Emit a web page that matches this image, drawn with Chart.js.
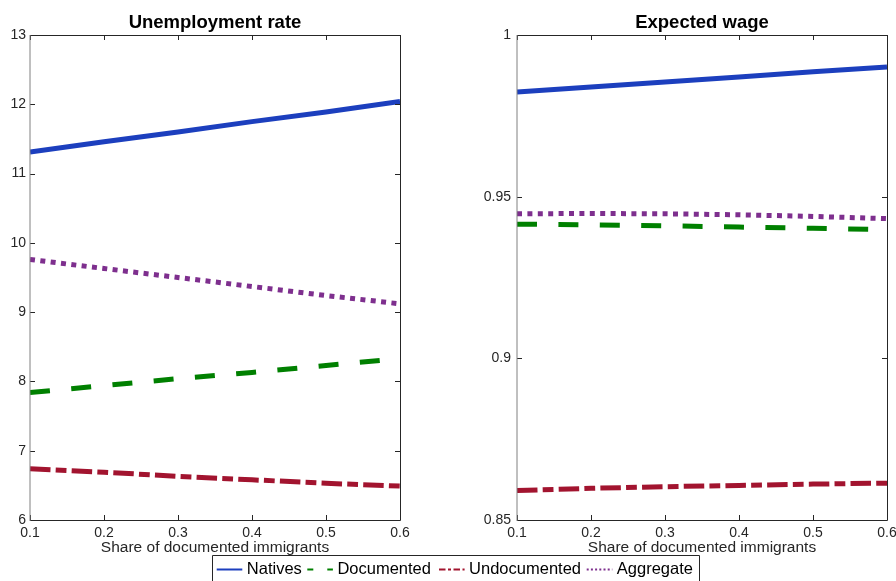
<!DOCTYPE html>
<html>
<head>
<meta charset="utf-8">
<script src="https://cdn.jsdelivr.net/npm/chart.js@4"></script>
<style>
  html, body { margin: 0; padding: 0; background: #fff; }
  #wrap { position: relative; width: 896px; height: 581px; overflow: hidden; background: #fff; }
  #wrap canvas { position: absolute; left: 0; top: 0; }
</style>
</head>
<body>
<div id="wrap">
  <canvas id="unemp" width="896" height="581"></canvas>
  <canvas id="wage" width="896" height="581"></canvas>
</div>
<script>
// Share of documented immigrants (x values)
const shares = [0.1, 0.2, 0.3, 0.4, 0.5, 0.6];

// Unemployment rate (%)
const unempNatives      = [11.31, 11.46, 11.60, 11.75, 11.89, 12.04];
const unempDocumented   = [7.84, 7.94, 8.04, 8.13, 8.23, 8.33];
const unempUndocumented = [6.74, 6.69, 6.63, 6.58, 6.53, 6.49];
const unempAggregate    = [9.76, 9.63, 9.50, 9.37, 9.24, 9.12];

// Expected wage
const wageNatives      = [0.9824, 0.9839, 0.9855, 0.9870, 0.9886, 0.9901];
const wageDocumented   = [0.9415, 0.9413, 0.9410, 0.9406, 0.9402, 0.9398];
const wageUndocumented = [0.8591, 0.8598, 0.8603, 0.8607, 0.8611, 0.8614];
const wageAggregate    = [0.9447, 0.9448, 0.9447, 0.9444, 0.9439, 0.9432];

// Tick values and labels
const xTicks = [0.1, 0.2, 0.3, 0.4, 0.5, 0.6];
const xTickLabels = ['0.1', '0.2', '0.3', '0.4', '0.5', '0.6'];
const unempTicks = [6, 7, 8, 9, 10, 11, 12, 13];
const unempTickLabels = ['6', '7', '8', '9', '10', '11', '12', '13'];
const wageTicks = [0.85, 0.9, 0.95, 1];
const wageTickLabels = ['0.85', '0.9', '0.95', '1'];

const seriesNames = ['Natives', 'Documented', 'Undocumented', 'Aggregate'];
const xTitle = 'Share of documented immigrants';

const FONT = "'Liberation Sans', Arial, Helvetica, sans-serif";
const AXIS_COLOR = '#262626';

const styles = [
  { color: '#1c3fbe', dash: [], legendDash: [] },
  { color: '#008000', dash: [20, 21.4], legendDash: [6, 14] },
  { color: '#a2142f', dash: [20.5, 5.2, 10.8, 5.2], legendDash: [6.5, 2.5, 3, 2.5] },
  { color: '#7e2f8e', dash: [5, 5.4], legendDash: [2, 2.2] }
];

// Legend slot for each entry: where its line sample starts
const legendSlots = [216.7, 307.3, 439, 586.7];

Chart.defaults.font.family = FONT;

function makeDatasets(series) {
  return series.map((vals, i) => ({
    label: seriesNames[i],
    data: shares.map((x, k) => ({ x: x, y: vals[k] })),
    borderColor: styles[i].color,
    backgroundColor: styles[i].color,
    borderWidth: 5,
    borderDash: styles[i].dash,
    borderCapStyle: 'butt',
    borderJoinStyle: 'round',
    pointRadius: 0,
    tension: 0,
    fill: false
  }));
}

// Box around the plot area with inward tick marks on all four sides
const axesBox = {
  id: 'axesBox',
  afterDatasetsDraw(chart) {
    const { ctx, chartArea: a, scales } = chart;
    const L = 5;
    ctx.save();
    ctx.strokeStyle = AXIS_COLOR;
    ctx.lineWidth = 1;
    ctx.beginPath();
    scales.x.ticks.forEach(t => {
      const px = Math.round(scales.x.getPixelForValue(t.value)) + 0.5;
      ctx.moveTo(px, a.bottom); ctx.lineTo(px, a.bottom - L);
      ctx.moveTo(px, a.top); ctx.lineTo(px, a.top + L);
    });
    scales.y.ticks.forEach(t => {
      const py = Math.round(scales.y.getPixelForValue(t.value)) + 0.5;
      ctx.moveTo(a.left, py); ctx.lineTo(a.left + L, py);
      ctx.moveTo(a.right, py); ctx.lineTo(a.right - L, py);
    });
    ctx.stroke();
    ctx.beginPath();
    ctx.moveTo(a.left + 0.5, a.top + 0.5);
    ctx.lineTo(a.right + 0.5, a.top + 0.5);
    ctx.lineTo(a.right + 0.5, a.bottom + 0.5);
    ctx.lineTo(a.left + 0.5, a.bottom + 0.5);
    ctx.stroke();
    ctx.strokeStyle = '#808080';
    ctx.beginPath();
    ctx.moveTo(a.left, a.top);
    ctx.lineTo(a.left, a.bottom + 1);
    ctx.stroke();
    ctx.restore();
  }
};

// Shared legend along the bottom edge
const bottomLegend = {
  id: 'bottomLegend',
  afterDraw(chart) {
    const ctx = chart.ctx;
    const cy = 569.5;
    const sample = 25.6;
    ctx.save();
    ctx.font = '16.5px ' + FONT;
    ctx.textBaseline = 'middle';
    ctx.textAlign = 'left';
    chart.data.datasets.forEach((ds, i) => {
      const x = legendSlots[i];
      ctx.strokeStyle = ds.borderColor;
      ctx.lineWidth = 2;
      ctx.lineCap = 'butt';
      ctx.setLineDash(styles[i].legendDash);
      ctx.beginPath();
      ctx.moveTo(x, cy);
      ctx.lineTo(x + sample, cy);
      ctx.stroke();
      ctx.setLineDash([]);
      ctx.fillStyle = '#000';
      ctx.fillText(ds.label, x + sample + 4.5, cy);
    });
    ctx.strokeStyle = AXIS_COLOR;
    ctx.lineWidth = 1;
    ctx.beginPath();
    ctx.moveTo(212.5, 590);
    ctx.lineTo(212.5, 555.5);
    ctx.lineTo(699.5, 555.5);
    ctx.lineTo(699.5, 590);
    ctx.stroke();
    ctx.restore();
  }
};

function makeChart(id, opts) {
  return new Chart(document.getElementById(id), {
    type: 'line',
    data: { datasets: makeDatasets(opts.series) },
    options: {
      responsive: false,
      animation: false,
      events: [],
      layout: { padding: { left: opts.padLeft, right: opts.padRight, top: 0, bottom: 21 } },
      plugins: {
        legend: { display: false },
        tooltip: { enabled: false },
        title: {
          display: true,
          text: opts.title,
          fullSize: false,
          color: '#000',
          font: { family: FONT, size: 18.5, weight: 'bold', lineHeight: 1.2 },
          padding: { top: 11.4, bottom: 1.4 }
        }
      },
      scales: {
        x: {
          type: 'linear',
          min: 0.1,
          max: 0.6,
          grid: { display: false, drawTicks: false },
          border: { display: false },
          ticks: {
            padding: 5,
            color: AXIS_COLOR,
            font: { size: 14 },
            maxRotation: 0,
            autoSkip: false,
            callback: (v, i) => xTickLabels[i]
          },
          afterBuildTicks: s => { s.ticks = xTicks.map(v => ({ value: v })); },
          afterFit: s => { s.height = 40; s.paddingLeft = 0; s.paddingRight = 0; },
          title: {
            display: true,
            text: xTitle,
            color: AXIS_COLOR,
            font: { size: 15.5, lineHeight: 1.2 },
            padding: { top: 0, bottom: 2.5 }
          }
        },
        y: {
          type: 'linear',
          min: opts.yMin,
          max: opts.yMax,
          grid: { display: false, drawTicks: false },
          border: { display: false },
          ticks: {
            padding: opts.yPad,
            color: AXIS_COLOR,
            font: { size: 14 },
            autoSkip: false,
            callback: (v, i) => opts.yLabels[i]
          },
          afterBuildTicks: s => { s.ticks = opts.yTicks.map(v => ({ value: v })); },
          afterFit: s => { s.width = opts.yWidth; s.paddingTop = 0; s.paddingBottom = 0; }
        }
      }
    },
    plugins: opts.plugins
  });
}

makeChart('unemp', {
  title: 'Unemployment rate',
  series: [unempNatives, unempDocumented, unempUndocumented, unempAggregate],
  yMin: 6, yMax: 13,
  yTicks: unempTicks, yLabels: unempTickLabels,
  padLeft: 0, yWidth: 30, padRight: 496, yPad: 4,
  plugins: [axesBox]
});

makeChart('wage', {
  title: 'Expected wage',
  series: [wageNatives, wageDocumented, wageUndocumented, wageAggregate],
  yMin: 0.85, yMax: 1,
  yTicks: wageTicks, yLabels: wageTickLabels,
  padLeft: 457, yWidth: 60, padRight: 9, yPad: 6,
  plugins: [axesBox, bottomLegend]
});
</script>
</body>
</html>
